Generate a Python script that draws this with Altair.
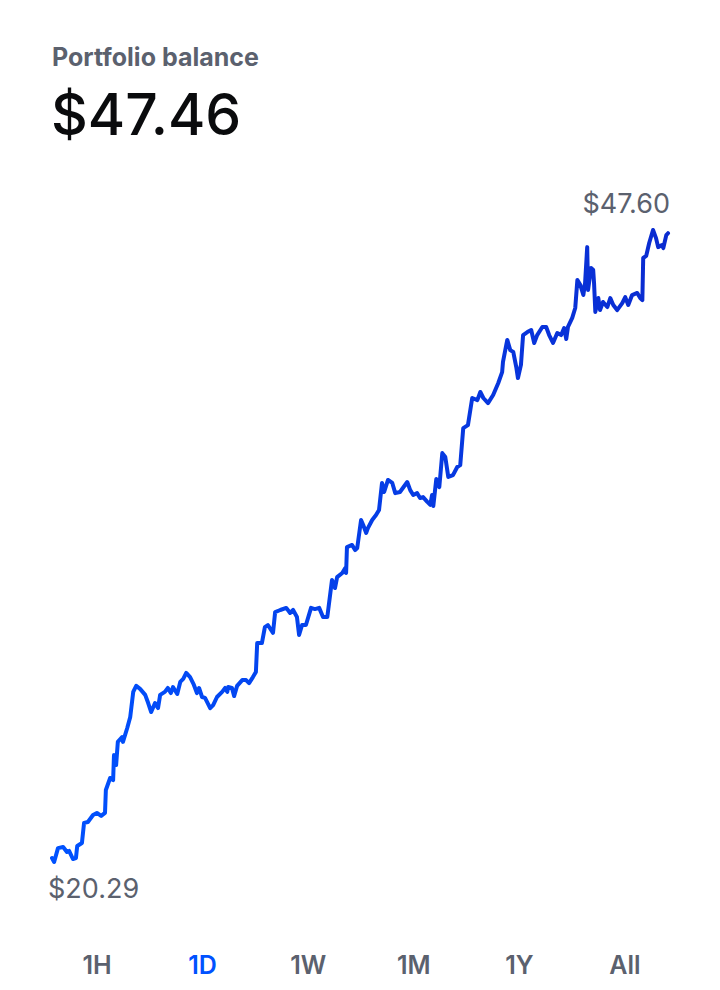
import altair as alt
import pandas as pd

# header / controls text
title_text = "Portfolio balance"
balance_text = "$47.46"
ranges = ["1H", "1D", "1W", "1M", "1Y", "All"]
active_range = "1D"

# minutes since start of the day
minutes = [
    0, 5, 14, 26, 35, 40, 49, 56, 59, 70,
    75, 84, 96, 105, 115, 124, 126, 136, 143, 145,
    150, 154, 164, 166, 176, 183, 190, 197, 206, 218,
    225, 232, 241, 248, 253, 264, 271, 278, 283, 293,
    300, 307, 314, 323, 332, 339, 344, 351, 358, 363,
    370, 377, 386, 398, 405, 410, 412, 421, 426, 433,
    445, 454, 461, 470, 477, 480, 491, 498, 505, 517,
    522, 534, 548, 557, 564, 573, 578, 585, 594, 606,
    615, 625, 634, 644, 655, 662, 667, 679, 686, 688,
    690, 702, 709, 714, 723, 728, 735, 739, 749, 758,
    765, 772, 777, 786, 796, 803, 814, 831, 838, 845,
    854, 861, 868, 878, 885, 889, 892, 899, 906, 913,
    920, 927, 938, 948, 955, 962, 973, 983, 995, 1002,
    1009, 1020, 1032, 1044, 1053, 1055, 1065, 1072, 1079, 1086,
    1090, 1097, 1102, 1112, 1121, 1128, 1135, 1147, 1156, 1163,
    1172, 1182, 1191, 1198, 1203, 1207, 1217, 1224, 1229, 1236,
    1243, 1247, 1252, 1254, 1261, 1266, 1268, 1271, 1278, 1282,
    1289, 1299, 1306, 1313, 1322, 1334, 1341, 1348, 1357, 1369,
    1376, 1381, 1383, 1390, 1397, 1406, 1413, 1418, 1427, 1430,
    1437, 1441,
]

# portfolio balance in dollars
balance = [
    20.46, 20.29, 20.89, 20.94, 20.72, 20.77, 20.42, 20.46, 20.98, 21.11,
    21.98, 22.02, 22.32, 22.41, 22.28, 22.41, 23.40, 23.92, 23.83, 24.91,
    24.48, 25.48, 25.69, 25.48, 26.08, 26.56, 27.64, 27.90, 27.77, 27.51,
    27.16, 26.77, 27.16, 26.94, 27.51, 27.64, 27.81, 27.59, 27.85, 27.55,
    28.07, 28.20, 28.46, 28.28, 27.94, 27.59, 27.81, 27.42, 27.38, 27.20,
    26.94, 27.07, 27.42, 27.64, 27.81, 27.64, 27.85, 27.81, 27.46, 27.90,
    28.15, 28.15, 28.02, 28.28, 28.50, 29.75, 29.75, 30.44, 30.53, 30.19,
    31.09, 31.18, 31.27, 31.05, 31.18, 30.88, 30.10, 30.53, 30.53, 31.27,
    31.22, 31.27, 30.88, 30.88, 32.48, 32.13, 32.60, 32.78, 32.99, 32.78,
    33.90, 33.99, 33.77, 33.86, 35.07, 34.85, 34.51, 34.72, 35.07, 35.28,
    35.50, 36.67, 36.28, 36.80, 36.67, 36.23, 36.28, 36.71, 36.36, 36.15,
    36.23, 36.02, 36.06, 35.85, 35.72, 36.15, 35.67, 36.84, 36.49, 37.96,
    37.79, 36.93, 37.01, 37.36, 37.44, 39.04, 39.17, 40.34, 40.25, 40.60,
    40.34, 40.12, 40.47, 40.99, 41.46, 41.90, 42.85, 42.41, 42.33, 41.68,
    41.20, 41.77, 43.06, 43.19, 43.28, 42.72, 43.06, 43.41, 43.41, 43.06,
    42.72, 43.15, 43.06, 43.36, 42.89, 43.41, 43.80, 44.23, 45.44, 45.22,
    44.79, 45.31, 46.86, 45.01, 45.96, 45.87, 45.31, 44.06, 44.66, 44.14,
    44.49, 44.27, 44.66, 44.36, 44.14, 44.44, 44.70, 44.36, 44.79, 44.88,
    44.66, 44.57, 46.39, 46.48, 47.04, 47.60, 47.25, 46.86, 46.95, 46.82,
    47.38, 47.46,
]

df = pd.DataFrame({"minute": minutes, "balance": balance})
hi = df[df["balance"] == df["balance"].max()].head(1)
lo = df[df["balance"] == df["balance"].min()].head(1)

GRAY = "#5B616E"
BLUE = "#0052FF"
FONT = "Inter"

x_scale = alt.Scale(domain=[0, 1441], nice=False, zero=False)
y_scale = alt.Scale(domain=[df["balance"].min(), df["balance"].max()], nice=False, zero=False)

line = alt.Chart(df).mark_line(
    strokeWidth=4,
    strokeJoin="round",
    strokeCap="round",
    stroke=alt.Gradient(
        gradient="linear",
        stops=[alt.GradientStop(color="#0052FF", offset=0),
               alt.GradientStop(color="#0A2BD0", offset=1)],
        x1=0, x2=1, y1=0, y2=0,
    ),
).encode(
    x=alt.X("minute:Q", scale=x_scale, axis=None),
    y=alt.Y("balance:Q", scale=y_scale, axis=None),
)

# max / min labels
hi_label = alt.Chart(hi).mark_text(
    align="right", baseline="alphabetic", dy=-17, font=FONT, fontSize=27, color=GRAY
).encode(
    x=alt.value(618),
    y=alt.Y("balance:Q", scale=y_scale, axis=None),
    text=alt.Text("balance:Q", format="$.2f"),
)

lo_label = alt.Chart(lo).mark_text(
    align="left", baseline="alphabetic", dy=36, font=FONT, fontSize=27, color=GRAY
).encode(
    x=alt.value(-4),
    y=alt.Y("balance:Q", scale=y_scale, axis=None),
    text=alt.Text("balance:Q", format="$.2f"),
)

# header
header = pd.DataFrame({"t": [title_text]})
title = alt.Chart(header).mark_text(
    align="left", baseline="alphabetic", font=FONT, fontSize=25, fontWeight="bold", color=GRAY
).encode(x=alt.value(0), y=alt.value(-164), text="t:N")

big = alt.Chart(pd.DataFrame({"t": [balance_text]})).mark_text(
    align="left", baseline="alphabetic", font=FONT, fontSize=57, fontWeight=500, color="#0A0B0D"
).encode(x=alt.value(-1), y=alt.value(-95), text="t:N")

# time range buttons
buttons = alt.Chart(pd.DataFrame({"range": ranges})).mark_text(
    align="center", baseline="alphabetic", font=FONT, fontSize=25, fontWeight=600
).encode(
    x=alt.X("range:N", sort=ranges, axis=None,
            scale=alt.Scale(type="point", range=[45, 573], padding=0)),
    y=alt.value(744),
    text="range:N",
    color=alt.condition(alt.datum.range == active_range, alt.value(BLUE), alt.value(GRAY)),
)

chart = alt.layer(line, hi_label, lo_label, title, big, buttons).resolve_scale(
    x="independent"
).properties(
    width=616,
    height=632,
    autosize=alt.AutoSizeParams(type="none"),
    padding={"left": 44, "top": 222, "right": 44, "bottom": 120},
    background="white",
).configure_view(stroke=None)

chart.save("out.html", embed_options={"renderer": "svg", "actions": False})
